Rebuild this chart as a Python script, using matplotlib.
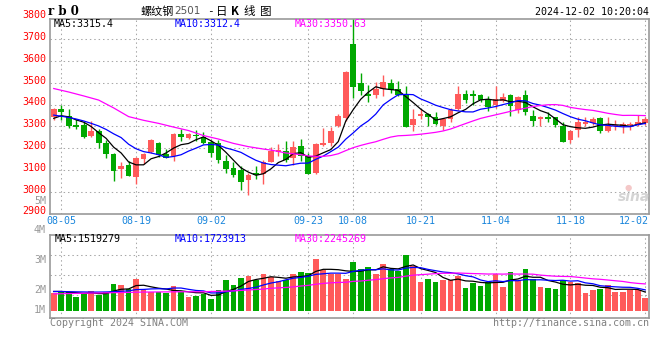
import numpy as np
import pandas as pd
import matplotlib
matplotlib.use("Agg")
import matplotlib.pyplot as plt

# ---------------- data ----------------
opens = [3345, 3380, 3348, 3306, 3306, 3258, 3281, 3222, 3172, 3106,
         3125, 3066, 3151, 3184, 3225, 3174, 3162, 3263, 3247, 3262,
         3253, 3230, 3222, 3143, 3107, 3100, 3054, 3085, 3080, 3138,
         3184, 3188, 3155, 3210, 3165, 3085, 3215, 3226, 3303, 3337,
         3680, 3500, 3450, 3442, 3470, 3500, 3472, 3450, 3307, 3348,
         3358, 3342, 3304, 3333, 3378, 3449, 3450, 3445, 3428, 3398,
         3418, 3444, 3375, 3444, 3348, 3333, 3345, 3342, 3302, 3238,
         3284, 3311, 3314, 3338, 3277, 3300, 3300, 3307, 3307, 3317]
highs = [3385, 3398, 3378, 3334, 3322, 3326, 3289, 3237, 3176, 3135,
         3140, 3160, 3178, 3240, 3230, 3196, 3268, 3290, 3270, 3285,
         3275, 3238, 3236, 3170, 3138, 3118, 3088, 3118, 3145, 3205,
         3220, 3233, 3233, 3240, 3178, 3222, 3295, 3297, 3358, 3555,
         3800, 3546, 3490, 3506, 3538, 3516, 3510, 3485, 3382, 3380,
         3362, 3364, 3338, 3386, 3484, 3466, 3467, 3450, 3440, 3484,
         3455, 3448, 3440, 3467, 3376, 3350, 3368, 3345, 3322, 3282,
         3342, 3342, 3345, 3342, 3345, 3328, 3322, 3322, 3352, 3345]
lows = [3328, 3330, 3294, 3290, 3246, 3252, 3203, 3156, 3050, 3062,
        3072, 3036, 3128, 3180, 3160, 3155, 3142, 3235, 3243, 3235,
        3218, 3158, 3134, 3085, 3066, 3008, 2985, 3057, 3036, 3135,
        3165, 3135, 3122, 3140, 3080, 3080, 3208, 3210, 3298, 3325,
        3432, 3444, 3412, 3432, 3440, 3452, 3440, 3298, 3280, 3335,
        3300, 3306, 3283, 3322, 3375, 3408, 3398, 3410, 3370, 3385,
        3410, 3350, 3360, 3352, 3303, 3303, 3322, 3298, 3228, 3222,
        3253, 3303, 3306, 3268, 3275, 3284, 3272, 3285, 3300, 3305]
closes = [3380, 3364, 3302, 3298, 3253, 3280, 3222, 3172, 3097, 3119,
          3074, 3155, 3173, 3236, 3170, 3157, 3265, 3252, 3264, 3256,
          3222, 3176, 3146, 3104, 3077, 3046, 3077, 3075, 3138, 3188,
          3193, 3148, 3207, 3162, 3081, 3220, 3225, 3280, 3346, 3552,
          3483, 3463, 3440, 3473, 3506, 3465, 3445, 3298, 3334, 3357,
          3345, 3311, 3333, 3374, 3450, 3422, 3441, 3422, 3390, 3425,
          3434, 3394, 3434, 3364, 3325, 3345, 3334, 3306, 3230, 3279,
          3320, 3322, 3333, 3277, 3300, 3305, 3310, 3311, 3322, 3334]
# volume, millions of lots
volumes = [1.44, 1.59, 1.59, 1.17, 1.44, 1.63, 1.28, 1.59, 2.25, 2.17,
           1.78, 2.67, 1.73, 1.59, 1.59, 1.44, 2.06, 1.59, 1.17, 1.23,
           1.39, 1.00, 1.73, 2.59, 2.17, 2.75, 2.92, 2.56, 3.09, 2.81,
           2.50, 2.56, 3.09, 3.25, 3.14, 4.33, 3.42, 3.09, 3.09, 2.67,
           4.09, 3.50, 3.67, 3.09, 3.92, 3.45, 3.28, 4.67, 3.72, 2.42,
           2.67, 2.42, 2.59, 2.56, 2.92, 1.92, 2.28, 2.09, 2.36, 3.09,
           2.00, 3.25, 2.50, 3.50, 2.67, 2.00, 1.92, 1.84, 2.59, 2.36,
           2.31, 1.50, 1.75, 1.84, 2.17, 1.59, 1.59, 1.75, 1.75, 1.08]

# moving-average values before enough bars exist
ma5_head = [3337, 3349, 3344, 3330]
ma10_head = [3352, 3347, 3341, 3334, 3325, 3314, 3302, 3286, 3266]
ma30_head_idx = [0, 2, 4, 6, 8, 10, 12, 14, 16, 18, 20, 22, 24, 26, 28]
ma30_head = [3474, 3458, 3440, 3421, 3385, 3345, 3328, 3314, 3297, 3281,
             3258, 3242, 3222, 3207, 3196]
vma5_head = [1.60, 1.60, 1.55, 1.50]
vma10_head = [1.60, 1.60, 1.58, 1.57, 1.56, 1.55, 1.55, 1.56, 1.58]
vma30_head_idx = [0, 4, 8, 12, 16, 20, 24, 28]
vma30_head = [1.40, 1.45, 1.50, 1.55, 1.57, 1.58, 1.65, 1.80]

date_labels = ["08-05", "08-19", "09-02", "09-23", "10-08",
               "10-21", "11-04", "11-18", "12-02"]
date_idx = [1, 11, 21, 34, 40, 49, 59, 69, 79]
price_ticks = [2900, 3000, 3100, 3200, 3300, 3400, 3500, 3600, 3700, 3800]
vol_tick_labels = ["5M", "4M", "3M", "2M", "1M"]

title_main = "螺纹钢"
title_code = "2501"
title_tail = ["日", "K", "线", "图"]
symbol = "r b 0"
timestamp = "2024-12-02 10:20:04"
ma_price_text = ["MA5:3315.4", "MA10:3312.4", "MA30:3350.63"]
ma_vol_text = ["MA5:1519279", "MA10:1723913", "MA30:2245269"]

# ---------------- styling ----------------
RED = "#ff5a5a"
GREEN = "#00a800"
GRID = "#a8a8a8"
BORDER = "#999999"
MONO = "DejaVu Sans Mono"
W, H = 660, 360

n = len(closes)
idx = np.arange(n)
o = np.array(opens, float); c = np.array(closes, float)
hi = np.array(highs, float); lo = np.array(lows, float)
vol = np.array(volumes, float)
up = c >= o
cols = np.where(up, RED, GREEN)


def with_head(values, win, head):
    s = pd.Series(values).rolling(win).mean().to_numpy()
    s[:len(head)] = head
    return s


ma5 = with_head(c, 5, ma5_head)
ma10 = with_head(c, 10, ma10_head)
ma30_full = pd.Series(c).rolling(30).mean().to_numpy()
ma30_x = np.concatenate([ma30_head_idx, idx[29:]])
ma30_y = np.concatenate([ma30_head, ma30_full[29:]])

vma5 = with_head(vol, 5, vma5_head)
vma10 = with_head(vol, 10, vma10_head)
vma30_full = pd.Series(vol).rolling(30).mean().to_numpy()
vma30_x = np.concatenate([vma30_head_idx, idx[29:]])
vma30_y = np.concatenate([vma30_head, vma30_full[29:]])

fig = plt.figure(figsize=(6.6, 3.6), dpi=100)
fig.patch.set_facecolor("white")


def rect(l, t, r, b):
    return [l / W, 1 - b / H, (r - l) / W, (b - t) / H]


def ftext(x, y, s, **kw):
    return fig.text(x / W, 1 - y / H, s, **kw)


ax1 = fig.add_axes(rect(50, 19.3, 649, 213.5))
ax2 = fig.add_axes(rect(50, 234.7, 649, 318))

dots = (0, (1.4, 2.8))
for ax in (ax1, ax2):
    ax.set_xlim(-0.5, n - 0.5)
    ax.set_xticks([]); ax.set_yticks([])
    for sp in ax.spines.values():
        sp.set_color(BORDER); sp.set_linewidth(1.2)
    for d in date_idx:
        ax.axvline(d, color=GRID, lw=0.75, ls=dots, zorder=0)

# ---- price panel ----
ax1.set_ylim(2900, 3792)
for p in price_ticks[1:-1]:
    ax1.axhline(p, color=GRID, lw=0.75, ls=dots, zorder=0)

ax1.vlines(idx, lo, hi, colors=cols, lw=1.0, zorder=2)
body_h = np.maximum(np.abs(c - o), 4)
ax1.bar(idx, body_h, bottom=np.minimum(o, c), width=0.76, color=cols,
        linewidth=0, zorder=3)

ax1.plot(idx, ma5, color="black", lw=0.9, zorder=4)
ax1.plot(idx, ma10, color="#0000ff", lw=0.9, zorder=4)
ax1.plot(ma30_x, ma30_y, color="#ff00ff", lw=0.9, zorder=4)

# price labels
ylo, yhi = ax1.get_ylim()
for p in price_ticks:
    ypx = 213.5 - (p - ylo) / (yhi - ylo) * (213.5 - 19.3)
    ftext(46, ypx - 2.2, str(p), color="red", fontsize=7.2, family=MONO,
          ha="right", va="center")

# date labels
for d, lab in zip(date_idx, date_labels):
    last = d == date_idx[-1]
    ax1.annotate(lab, xy=(d, 0), xycoords=("data", "axes fraction"),
                 xytext=(4 if last else 0, -8), textcoords="offset pixels",
                 ha="right" if last else "center", va="center",
                 color="#1a86dc", fontsize=7.2, family=MONO,
                 annotation_clip=False)

# ---- volume panel ----
ax2.set_ylim(-0.61, 6.33)
for g in (1.31, 2.98, 4.64):
    ax2.axhline(g, color=GRID, lw=0.75, ls=dots, zorder=0)
ax2.bar(idx, vol, width=0.76, color=cols, linewidth=0, zorder=2)
ax2.plot(idx, vma5, color="black", lw=0.9, zorder=4)
ax2.plot(idx, vma10, color="#0000ff", lw=0.9, zorder=4)
ax2.plot(vma30_x, vma30_y, color="#ff00ff", lw=0.9, zorder=4)

for lab, ypx in zip(vol_tick_labels, [200.5, 230.3, 260.3, 290.3, 310.3]):
    ftext(46, ypx, lab, color="#999999", fontsize=7.2, family=MONO,
          ha="right", va="center")

# ---- header texts ----
ftext(48, 11.5, symbol, fontsize=8.5, family="DejaVu Serif",
      fontweight="bold", ha="left", va="center", color="black")
ftext(140, 11.5, title_main, fontsize=8, family=["Noto Sans CJK SC", "DejaVu Sans"],
      ha="left", va="center", color="black")
ftext(174, 11.5, title_code, fontsize=7.5, family="DejaVu Sans",
      ha="left", va="center", color="#555555")
ftext(210.5, 11.5, "-", fontsize=8, family=MONO, ha="center", va="center",
      color="black")
for ch, xx in zip(title_tail, [221.5, 235, 249.5, 266]):
    ftext(xx, 11.5, ch, fontsize=8.3, family=["Noto Sans CJK SC", "DejaVu Sans"],
          ha="center", va="center", color="black",
          fontweight="bold" if ch == "K" else "normal")
ftext(649, 12, timestamp, fontsize=7.2, family=MONO, ha="right",
      va="center", color="black")

for s, xx, colr in zip(ma_price_text, [54, 174.5, 295],
                       ["black", "#0000ff", "#ff00ff"]):
    ftext(xx, 24, s, fontsize=7.2, family=MONO, ha="left", va="center",
          color=colr)
for s, xx, colr in zip(ma_vol_text, [54.5, 175, 295],
                       ["black", "#0000ff", "#ff00ff"]):
    ftext(xx, 238.5, s, fontsize=7.2, family=MONO, ha="left", va="center",
          color=colr)

# watermark
ftext(634, 197, "sina", fontsize=10, family="DejaVu Sans", style="italic",
      fontweight="bold", color="#d4d4d4", ha="center", va="center")
ftext(628, 187, "●", fontsize=6, family="DejaVu Sans", color="#f4c8c8",
      ha="center", va="center")

# footer
ftext(50, 323.5, "Copyright 2024 SINA.COM", fontsize=7.2, family=MONO,
      ha="left", va="center", color="#808080")
ftext(649.5, 323.5, "http://finance.sina.com.cn", fontsize=7.2, family=MONO,
      ha="right", va="center", color="#808080")

fig.savefig("out.png", dpi=100, facecolor="white")
